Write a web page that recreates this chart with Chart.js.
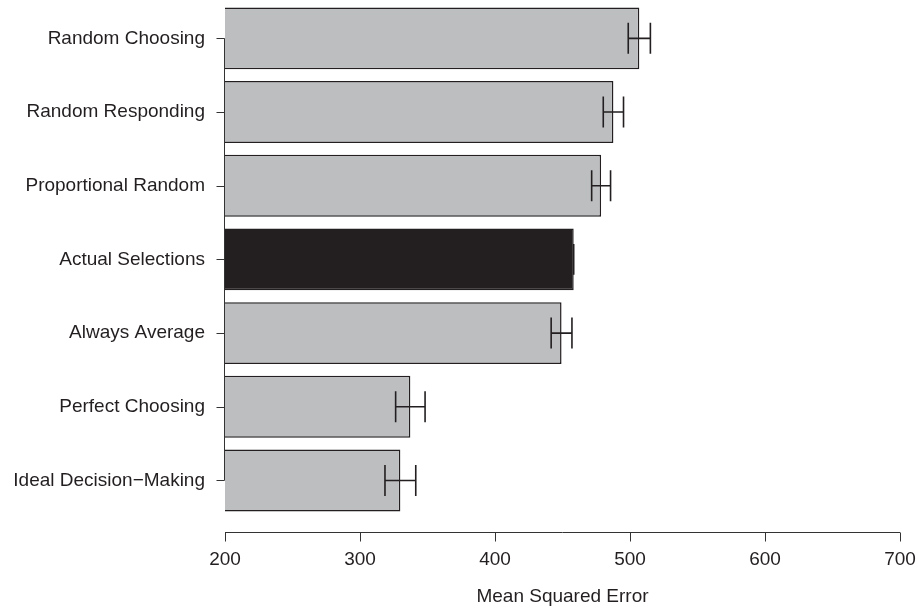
<!DOCTYPE html>
<html>
<head>
<meta charset="utf-8">
<script src="https://cdn.jsdelivr.net/npm/chart.js@4"></script>
<style>
    body { margin: 0; background: #fff; }
</style>
</head>
<body>
<canvas id="myChart" width="918" height="609"></canvas>
<script>

    // strategies, top to bottom
    const strategies = ['Random Choosing', 'Random Responding', 'Proportional Random', 'Actual Selections', 'Always Average', 'Perfect Choosing', 'Ideal Decision\u2212Making'];
    const mse = [506.9, 487.7, 478.6, 458.3, 449.3, 337.3, 329.9];
    const mseError = [8.2, 7.5, 7.0, 0, 7.7, 10.9, 11.4];
    const xTicks = [200, 300, 400, 500, 600, 700];

    var ink = '#231f20';
    var grey = '#bcbec0';
    var fontFamily = '"Liberation Sans", Arial, Helvetica, sans-serif';

    // the observed strategy gets the dark bar
    var barColors = strategies.map(name => name === 'Actual Selections' ? ink : grey);

    // no extra room around the scales, the layout below is fixed by hand
    function noPadding(scale) {
        scale.paddingTop = 0;
        scale.paddingBottom = 0;
        scale.paddingLeft = 0;
        scale.paddingRight = 0;
    }

    // error bars plus R-style detached axes
    var extras = {
        id: 'extras',
        afterDatasetsDraw(chart) {
            var ctx = chart.ctx;
            var xScale = chart.scales.x;
            var meta = chart.getDatasetMeta(0);

            ctx.save();
            ctx.strokeStyle = ink;
            ctx.lineWidth = 1.6;
            meta.data.forEach((bar, i) => {
                var x1 = xScale.getPixelForValue(mse[i] - mseError[i]);
                var x2 = xScale.getPixelForValue(mse[i] + mseError[i]);
                var half = bar.height / 4;
                ctx.beginPath();
                ctx.moveTo(x1, bar.y);
                ctx.lineTo(x2, bar.y);
                ctx.moveTo(x1, bar.y - half);
                ctx.lineTo(x1, bar.y + half);
                ctx.moveTo(x2, bar.y - half);
                ctx.lineTo(x2, bar.y + half);
                ctx.stroke();
            });
            ctx.restore();
        },
        afterDraw(chart) {
            var ctx = chart.ctx;
            var area = chart.chartArea;
            var xScale = chart.scales.x;
            var yScale = chart.scales.y;

            ctx.save();
            ctx.strokeStyle = '#333';
            ctx.lineWidth = 1;

            // x axis, sitting a bit below the bars
            var axisY = Math.round(area.bottom + 15) + 0.5;
            ctx.beginPath();
            ctx.moveTo(xScale.getPixelForValue(xTicks[0]), axisY);
            ctx.lineTo(xScale.getPixelForValue(xTicks[xTicks.length - 1]), axisY);
            xTicks.forEach(v => {
                var px = Math.round(xScale.getPixelForValue(v)) + 0.5;
                ctx.moveTo(px, axisY);
                ctx.lineTo(px, axisY + 9);
            });
            ctx.stroke();

            // y axis runs from first to last category only
            var axisX = Math.round(area.left) - 0.5;
            var yFirst = yScale.getPixelForValue(0);
            var yLast = yScale.getPixelForValue(strategies.length - 1);
            ctx.beginPath();
            ctx.moveTo(axisX, yFirst);
            ctx.lineTo(axisX, yLast);
            strategies.forEach((s, i) => {
                var py = Math.round(yScale.getPixelForValue(i)) + 0.5;
                ctx.moveTo(axisX, py);
                ctx.lineTo(axisX - 8, py);
            });
            ctx.stroke();
            ctx.restore();
        }
    };

    var myChart = new Chart(document.getElementById('myChart'), {
        type: 'bar',
        data: {
            labels: strategies,
            datasets: [{
                data: mse,
                backgroundColor: barColors,
                borderColor: ink,
                borderWidth: 1.5,
                borderSkipped: false,
                barPercentage: 0.84,
                categoryPercentage: 1
            }]
        },
        options: {
            indexAxis: 'y',
            responsive: false,
            animation: false,
            layout: { autoPadding: false, padding: { top: 1.5, right: 18, left: 0, bottom: 0 } },
            plugins: {
                legend: { display: false },
                tooltip: { enabled: false }
            },
            scales: {
                x: {
                    min: 200,
                    max: 700,
                    afterFit(scale) { scale.height = 91.7; noPadding(scale); },
                    grid: { display: false, drawTicks: false },
                    border: { display: false },
                    ticks: {
                        stepSize: 100,
                        maxRotation: 0,
                        padding: 31,
                        color: ink,
                        font: { family: fontFamily, size: 19 }
                    },
                    title: {
                        display: true,
                        text: 'Mean Squared Error',
                        color: ink,
                        padding: { top: 0, bottom: 1 },
                        font: { family: fontFamily, size: 19 }
                    }
                },
                y: {
                    afterFit(scale) { scale.width = 225; noPadding(scale); },
                    grid: { display: false, drawTicks: false },
                    border: { display: false },
                    ticks: {
                        padding: 20,
                        color: ink,
                        font: { family: fontFamily, size: 19 }
                    }
                }
            }
        },
        plugins: [extras]
    });

</script>
</body>
</html>
